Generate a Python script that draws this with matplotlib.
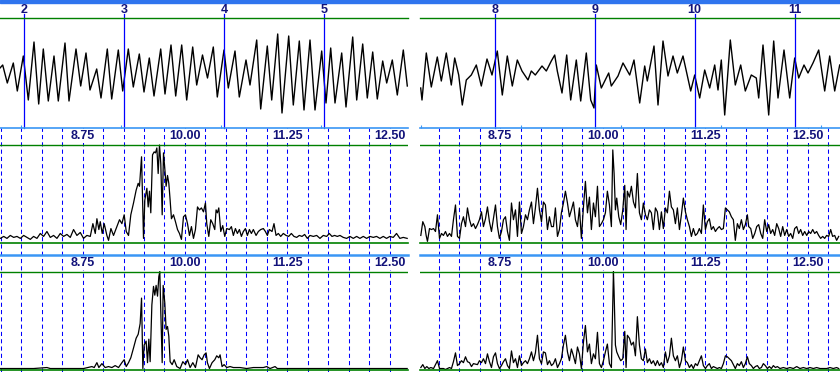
import numpy as np
import matplotlib
matplotlib.use('Agg')
import matplotlib.pyplot as plt
from matplotlib.patches import Rectangle

W, H = 840, 372

NAVY = '#12127a'
GREEN = '#008000'
BLUE = '#0000ff'
AXBLUE = '#3a96f5'
FONT = 'Liberation Sans'

# second markers / ticks on the two EEG segments
sec_left = [2, 3, 4, 5]
sec_right = [8, 9, 10, 11]
tick_left = [1.97, 2.97, 3.97, 4.97]
tick_right = [7.26, 8.26, 9.26, 10.26, 11.26]
freq_labels = [8.75, 10.00, 11.25, 12.50]

# raw EEG (time s, amplitude uV)
wave_left = [
    (1.760, 4), (1.787, 7), (1.833, -11), (1.893, 9), (1.933, -19), (1.993, 16),
    (2.043, -28), (2.100, 30), (2.147, -32), (2.193, 23), (2.243, -29), (2.300, 16),
    (2.343, -29), (2.410, 29), (2.450, -29), (2.520, 23), (2.567, -14), (2.620, 19),
    (2.660, -18), (2.727, 3), (2.770, -26), (2.833, 23), (2.877, -27), (2.943, 22),
    (2.987, -19), (3.043, 23), (3.093, -15), (3.153, 18), (3.200, -20), (3.253, 14),
    (3.300, -24), (3.367, 23), (3.410, -22), (3.470, 27), (3.517, -24), (3.577, 27),
    (3.627, -28), (3.687, 25), (3.727, -13), (3.785, 17), (3.835, -6), (3.893, 25),
    (3.933, -25), (4.000, 22), (4.043, -16), (4.110, 21), (4.153, -25), (4.220, 12),
    (4.260, -13), (4.327, 32), (4.367, -37), (4.433, 26), (4.477, -28), (4.537, 38),
    (4.580, -41), (4.647, 36), (4.693, -33), (4.753, 31), (4.800, -38), (4.860, 32),
    (4.910, -38), (4.977, 21), (5.020, -31), (5.067, 24), (5.110, -31), (5.177, 19),
    (5.220, -35), (5.287, 35), (5.327, -28), (5.387, 28), (5.433, -26), (5.487, 20),
    (5.533, -27), (5.587, 11), (5.627, -11), (5.683, 12), (5.733, -23), (5.793, 22),
    (5.833, -14),
]
wave_right = [
    (7.260, -16), (7.273, -28), (7.316, 19), (7.366, -15), (7.426, 15), (7.466, -9),
    (7.516, 19), (7.566, -13), (7.600, 14), (7.640, -3), (7.676, -33), (7.716, -8),
    (7.766, -3), (7.816, 7), (7.866, -14), (7.923, 13), (7.973, -3), (8.026, 21),
    (8.076, -23), (8.126, 16), (8.176, -14), (8.226, 12), (8.273, 1), (8.333, -8),
    (8.366, 1), (8.406, -3), (8.473, 6), (8.516, 1), (8.566, 11), (8.600, 17),
    (8.626, 1), (8.673, -21), (8.720, 17), (8.760, -28), (8.816, 12), (8.860, -29),
    (8.916, 19), (8.960, -28), (8.993, -36), (9.016, 7), (9.066, -16), (9.140, -1),
    (9.166, -14), (9.233, -4), (9.283, 9), (9.350, -3), (9.393, 12), (9.450, -31),
    (9.500, 6), (9.526, -9), (9.593, 26), (9.633, -33), (9.683, 31), (9.733, -4),
    (9.783, 16), (9.826, -1), (9.883, 16), (9.960, -19), (10.000, -3), (10.050, -26),
    (10.100, 2), (10.150, -16), (10.200, 7), (10.233, -18), (10.266, 12), (10.300, -43),
    (10.356, 32), (10.406, -13), (10.460, 7), (10.506, -19), (10.566, -3), (10.616, -6),
    (10.640, -26), (10.683, 27), (10.740, -43), (10.790, 31), (10.833, -26), (10.893, 22),
    (10.950, -26), (11.000, 14), (11.040, -6), (11.093, 7), (11.133, -1), (11.183, 9),
    (11.240, 22), (11.300, -19), (11.350, 16), (11.400, -19), (11.450, 7),
]

# spectra (Hz, % of panel max)
spec_left_amp = [
    (7.746, 5), (7.787, 7), (7.827, 5), (7.868, 8), (7.909, 6), (7.949, 7), (7.990, 5),
    (8.031, 8), (8.071, 6), (8.112, 4), (8.152, 7), (8.193, 5), (8.234, 10), (8.274, 7),
    (8.315, 12), (8.356, 6), (8.396, 8), (8.437, 5), (8.478, 10), (8.518, 7), (8.559, 9),
    (8.600, 6), (8.640, 14), (8.681, 8), (8.722, 11), (8.762, 5), (8.803, 8), (8.844, 7),
    (8.876, 20), (8.905, 10), (8.925, 25), (8.949, 14), (8.966, 22), (8.990, 10),
    (9.014, 20), (9.047, 8), (9.067, 3), (9.096, 15), (9.128, 8), (9.169, 17), (9.201, 24),
    (9.230, 20), (9.258, 29), (9.283, 12), (9.311, 8), (9.339, 29), (9.372, 41),
    (9.404, 54), (9.429, 61), (9.445, 58), (9.470, 88), (9.494, 5), (9.510, 44),
    (9.535, 56), (9.551, 37), (9.567, 53), (9.583, 31), (9.604, 90), (9.624, 93),
    (9.640, 92), (9.657, 97), (9.673, 71), (9.689, 100), (9.705, 81), (9.722, 29),
    (9.738, 92), (9.754, 76), (9.770, 58), (9.787, 69), (9.803, 61), (9.819, 44),
    (9.835, 25), (9.860, 29), (9.884, 22), (9.909, 14), (9.933, 10), (9.957, 4),
    (9.982, 27), (10.006, 29), (10.031, 20), (10.055, 8), (10.079, 17), (10.104, 5),
    (10.128, 14), (10.153, 37), (10.177, 34), (10.201, 36), (10.226, 32), (10.250, 41),
    (10.266, 20), (10.291, 7), (10.315, 24), (10.339, 20), (10.364, 14), (10.380, 34),
    (10.396, 31), (10.413, 36), (10.437, 12), (10.461, 18), (10.486, 7), (10.510, 15),
    (10.543, 14), (10.567, 17), (10.591, 8), (10.616, 15), (10.640, 10), (10.665, 14),
    (10.689, 7), (10.713, 12), (10.738, 15), (10.762, 8), (10.787, 14), (10.811, 10),
    (10.835, 14), (10.868, 8), (10.896, 12), (10.925, 14), (10.957, 15), (10.982, 12),
    (11.006, 8), (11.030, 14), (11.063, 12), (11.087, 20), (11.112, 8), (11.140, 10),
    (11.169, 7), (11.201, 10), (11.234, 8), (11.266, 7), (11.299, 10), (11.331, 7),
    (11.364, 6), (11.396, 8), (11.429, 7), (11.461, 9), (11.494, 5), (11.526, 8),
    (11.567, 7), (11.608, 8), (11.648, 5), (11.689, 8), (11.730, 7), (11.762, 10),
    (11.795, 7), (11.827, 8), (11.860, 7), (11.892, 8), (11.933, 6), (11.974, 5),
    (12.014, 7), (12.055, 5), (12.096, 7), (12.136, 5), (12.177, 7), (12.218, 5),
    (12.258, 7), (12.299, 6), (12.339, 7), (12.380, 5), (12.421, 7), (12.461, 5),
    (12.502, 7), (12.543, 6), (12.583, 10), (12.624, 5), (12.665, 6), (12.713, 5),
]
spec_left_pow = [
    (7.746, 1), (8.152, 1), (8.315, 2), (8.356, 1), (8.762, 1), (8.864, 3), (8.892, 2),
    (8.925, 7), (8.949, 2), (8.986, 6), (9.026, 2), (9.067, 3), (9.108, 2), (9.148, 4),
    (9.189, 2), (9.230, 7), (9.258, 10), (9.283, 3), (9.311, 7), (9.339, 12), (9.372, 22),
    (9.404, 32), (9.429, 36), (9.453, 47), (9.470, 73), (9.486, 1), (9.502, 25),
    (9.526, 29), (9.543, 7), (9.559, 31), (9.575, 8), (9.596, 66), (9.616, 85),
    (9.632, 76), (9.648, 86), (9.665, 75), (9.681, 95), (9.693, 100), (9.705, 59),
    (9.722, 7), (9.734, 86), (9.754, 68), (9.770, 41), (9.787, 44), (9.803, 34),
    (9.819, 8), (9.844, 5), (9.868, 10), (9.900, 3), (9.941, 1), (9.974, 8), (10.006, 5),
    (10.031, 10), (10.063, 2), (10.096, 7), (10.128, 2), (10.161, 15), (10.185, 12),
    (10.209, 10), (10.234, 15), (10.258, 17), (10.274, 7), (10.299, 1), (10.331, 7),
    (10.364, 10), (10.388, 14), (10.413, 12), (10.429, 15), (10.453, 3), (10.478, 5),
    (10.510, 2), (10.551, 3), (10.591, 2), (10.673, 2), (10.754, 1), (10.835, 2),
    (10.957, 2), (10.998, 3), (11.039, 1), (11.100, 3), (11.128, 1), (11.405, 1),
    (11.811, 1), (12.713, 1),
]
spec_right_amp = [
    (7.782, 8), (7.806, 22), (7.831, 17), (7.847, 8), (7.863, 2), (7.888, 15), (7.912, 14),
    (7.937, 15), (7.961, 12), (7.985, 29), (8.010, 5), (8.034, 10), (8.058, 8), (8.083, 12),
    (8.107, 7), (8.132, 10), (8.156, 7), (8.180, 24), (8.205, 39), (8.229, 7), (8.254, 5),
    (8.278, 20), (8.302, 27), (8.327, 17), (8.351, 36), (8.376, 24), (8.400, 17),
    (8.424, 20), (8.449, 15), (8.473, 19), (8.497, 24), (8.522, 32), (8.546, 17),
    (8.571, 25), (8.595, 37), (8.619, 22), (8.644, 12), (8.668, 25), (8.693, 39),
    (8.717, 17), (8.741, 5), (8.766, 12), (8.790, 24), (8.815, 27), (8.839, 12),
    (8.863, 3), (8.888, 41), (8.912, 24), (8.937, 34), (8.961, 7), (8.985, 42),
    (9.010, 10), (9.034, 17), (9.059, 29), (9.083, 24), (9.107, 34), (9.132, 42),
    (9.156, 20), (9.180, 36), (9.205, 56), (9.229, 34), (9.254, 22), (9.278, 42),
    (9.302, 39), (9.327, 14), (9.351, 27), (9.376, 17), (9.400, 17), (9.424, 36),
    (9.449, 7), (9.473, 14), (9.497, 31), (9.522, 41), (9.546, 53), (9.571, 41),
    (9.595, 27), (9.619, 34), (9.644, 42), (9.668, 24), (9.693, 17), (9.717, 36),
    (9.741, 5), (9.766, 37), (9.790, 63), (9.815, 31), (9.839, 47), (9.863, 14),
    (9.888, 41), (9.912, 27), (9.937, 58), (9.961, 17), (9.985, 20), (10.010, 24),
    (10.034, 31), (10.058, 53), (10.083, 39), (10.107, 17), (10.124, 95), (10.140, 71),
    (10.156, 34), (10.172, 46), (10.197, 27), (10.221, 19), (10.246, 34), (10.270, 59),
    (10.286, 14), (10.302, 53), (10.327, 47), (10.351, 58), (10.376, 42), (10.400, 36),
    (10.424, 71), (10.449, 31), (10.473, 24), (10.497, 41), (10.522, 29), (10.546, 24),
    (10.571, 34), (10.595, 31), (10.619, 14), (10.644, 36), (10.668, 32), (10.693, 14),
    (10.717, 32), (10.741, 15), (10.766, 36), (10.790, 31), (10.815, 53), (10.839, 37),
    (10.863, 34), (10.888, 20), (10.912, 36), (10.937, 14), (10.961, 29), (10.985, 46),
    (11.010, 32), (11.034, 24), (11.059, 17), (11.083, 7), (11.107, 15), (11.132, 8),
    (11.156, 10), (11.180, 15), (11.205, 10), (11.229, 39), (11.254, 14), (11.278, 22),
    (11.302, 25), (11.327, 14), (11.351, 17), (11.376, 12), (11.400, 15), (11.424, 17),
    (11.449, 14), (11.473, 15), (11.498, 36), (11.522, 34), (11.546, 32), (11.571, 27),
    (11.595, 24), (11.619, 3), (11.644, 20), (11.668, 15), (11.693, 24), (11.717, 14),
    (11.741, 19), (11.766, 29), (11.782, 17), (11.807, 15), (11.831, 5), (11.856, 10),
    (11.880, 17), (11.904, 19), (11.929, 10), (11.953, 5), (11.977, 24), (12.002, 12),
    (12.026, 19), (12.050, 10), (12.075, 14), (12.099, 8), (12.124, 20), (12.148, 15),
    (12.172, 7), (12.197, 17), (12.221, 8), (12.246, 14), (12.270, 7), (12.294, 10),
    (12.319, 5), (12.343, 15), (12.368, 17), (12.392, 10), (12.416, 14), (12.441, 8),
    (12.465, 12), (12.490, 8), (12.514, 12), (12.538, 10), (12.563, 14), (12.587, 10),
    (12.611, 12), (12.636, 8), (12.660, 5), (12.685, 7), (12.709, 5), (12.733, 8),
    (12.758, 7), (12.782, 14), (12.806, 7), (12.831, 8), (12.855, 3), (12.880, 7),
]
spec_right_pow = [
    (7.782, 2), (7.806, 5), (7.831, 1), (7.855, 3), (7.880, 1), (7.904, 2), (7.937, 1),
    (7.985, 9), (8.010, 1), (8.034, 1), (8.058, 1), (8.083, 0), (8.107, 1), (8.132, 2),
    (8.156, 1), (8.180, 8), (8.205, 17), (8.229, 4), (8.254, 6), (8.278, 9), (8.302, 7),
    (8.327, 13), (8.351, 8), (8.376, 7), (8.400, 3), (8.424, 6), (8.473, 5), (8.497, 9),
    (8.522, 7), (8.546, 11), (8.571, 6), (8.595, 16), (8.619, 8), (8.644, 2), (8.668, 13),
    (8.693, 17), (8.717, 6), (8.741, 1), (8.766, 4), (8.790, 8), (8.815, 11), (8.839, 4),
    (8.863, 1), (8.888, 19), (8.912, 7), (8.937, 11), (8.961, 2), (8.985, 14), (9.010, 4),
    (9.034, 7), (9.059, 9), (9.083, 6), (9.107, 11), (9.132, 18), (9.156, 9), (9.180, 17),
    (9.205, 35), (9.229, 11), (9.254, 6), (9.278, 18), (9.302, 17), (9.327, 5),
    (9.351, 9), (9.376, 4), (9.400, 6), (9.424, 11), (9.449, 2), (9.473, 6), (9.497, 11),
    (9.522, 25), (9.546, 35), (9.571, 18), (9.595, 9), (9.619, 21), (9.644, 14),
    (9.668, 6), (9.693, 23), (9.717, 16), (9.741, 1), (9.766, 28), (9.790, 45),
    (9.815, 18), (9.839, 26), (9.863, 6), (9.888, 16), (9.912, 11), (9.937, 38),
    (9.961, 6), (9.985, 2), (10.010, 9), (10.034, 18), (10.058, 26), (10.083, 6),
    (10.107, 2), (10.132, 100), (10.140, 79), (10.156, 25), (10.172, 18), (10.197, 13),
    (10.221, 9), (10.246, 11), (10.270, 39), (10.286, 2), (10.302, 35), (10.327, 32),
    (10.351, 25), (10.376, 28), (10.400, 14), (10.424, 54), (10.449, 25), (10.473, 11),
    (10.497, 9), (10.522, 21), (10.546, 7), (10.571, 11), (10.595, 6), (10.619, 9),
    (10.644, 4), (10.668, 9), (10.693, 4), (10.717, 7), (10.741, 2), (10.766, 18),
    (10.790, 7), (10.815, 14), (10.839, 32), (10.863, 14), (10.888, 9), (10.912, 14),
    (10.937, 2), (10.961, 9), (10.985, 23), (11.010, 9), (11.034, 7), (11.059, 2),
    (11.083, 5), (11.107, 1), (11.132, 6), (11.156, 4), (11.180, 9), (11.205, 14),
    (11.229, 4), (11.254, 1), (11.278, 4), (11.302, 6), (11.327, 1), (11.351, 3),
    (11.376, 2), (11.400, 1), (11.424, 2), (11.449, 1), (11.473, 6), (11.498, 14),
    (11.522, 13), (11.546, 11), (11.571, 9), (11.595, 5), (11.619, 1), (11.644, 6),
    (11.668, 4), (11.693, 8), (11.717, 2), (11.741, 6), (11.766, 13), (11.790, 6),
    (11.815, 4), (11.839, 1), (11.863, 3), (11.888, 4), (11.912, 1), (11.937, 2),
    (11.961, 6), (11.985, 4), (12.010, 1), (12.034, 3), (12.059, 1), (12.083, 4),
    (12.108, 2), (12.132, 3), (12.164, 1), (12.205, 2), (12.246, 1), (12.286, 2),
    (12.327, 1), (12.368, 3), (12.408, 1), (12.449, 2), (12.489, 1), (12.530, 2),
    (12.571, 1), (12.611, 2), (12.652, 1), (12.693, 1), (12.733, 1), (12.774, 2),
    (12.814, 1), (12.855, 2), (12.880, 1),
]


def px_axes(fig, x0, y0, x1, y1):
    """axes placed by pixel box (origin top-left)"""
    return fig.add_axes([x0 / W, 1 - y1 / H, (x1 - x0) / W, (y1 - y0) / H])


def bare(ax):
    ax.set_xticks([])
    ax.set_yticks([])
    ax.patch.set_visible(False)
    for s in ax.spines.values():
        s.set_visible(False)


def wave_panel(fig, x0, x1, tlim, wave, secs, ticks):
    ax = px_axes(fig, x0, 18, x1, 127.5)
    bare(ax)
    ax.set_zorder(5)
    t, v = zip(*wave)
    ax.plot(t, v, color='black', lw=1.0)
    ax.set_xlim(*tlim)
    ax.set_ylim(-55.5, 54)
    ax.spines['top'].set_visible(True)
    ax.spines['top'].set_color(GREEN)
    ax.spines['top'].set_linewidth(1.0)
    ax.spines['bottom'].set_visible(True)
    ax.spines['bottom'].set_color(AXBLUE)
    ax.spines['bottom'].set_linewidth(1.2)
    ax.set_xticks(ticks)
    ax.tick_params(axis='x', direction='in', length=2.5, width=0.8,
                   color=AXBLUE, labelbottom=False)
    for s in secs:
        ax.axvline(s, ymin=0, ymax=1.041, color=BLUE, lw=0.9, clip_on=False)
        ax.text(s, 1.075, str(s), transform=ax.get_xaxis_transform(),
                ha='center', va='center', fontsize=9, fontweight='bold',
                color=NAVY, family=FONT)


def spec_column(fig, x0, x1, flim, amp, pw):
    # dashed frequency grid running through both spectra
    bg = px_axes(fig, x0, 127.5, x1, 372)
    bare(bg)
    bg.set_xlim(*flim)
    bg.set_ylim(0, 1)
    for f in np.arange(7.75, 13.0, 0.25):
        if flim[0] <= f <= flim[1]:
            bg.axvline(f, color=BLUE, lw=0.75, ls=(0, (4, 3)))

    rows = [(127.5, 145, 243.3, amp, False), (255, 271.7, 369.5, pw, True)]
    for y0, ytop, ybot, spec, blue_top in rows:
        ax = px_axes(fig, x0, y0, x1, ybot)
        bare(ax)
        ymax = 100 * (ybot - y0) / (ybot - ytop)
        f, v = zip(*spec)
        ax.plot(f, v, color='black', lw=0.9)
        ax.set_xlim(*flim)
        ax.set_ylim(0, ymax)
        ax.axhline(100, color=GREEN, lw=1.0)
        ax.spines['bottom'].set_visible(True)
        ax.spines['bottom'].set_color(GREEN)
        ax.spines['bottom'].set_linewidth(1.2)
        if blue_top:
            ax.spines['top'].set_visible(True)
            ax.spines['top'].set_color(AXBLUE)
            ax.spines['top'].set_linewidth(1.8)
        lab_y = 100 * (ybot - (ytop - 9)) / (ybot - ytop)
        for fl in freq_labels:
            ax.text(fl, lab_y, f'{fl:.2f}', ha='center', va='center',
                    fontsize=9, fontweight='bold', color=NAVY, family=FONT,
                    zorder=2.4,
                    bbox=dict(boxstyle='square,pad=0.08', fc='white', ec='none'))


fig = plt.figure(figsize=(W / 100, H / 100), dpi=100)
fig.patch.set_facecolor('white')
fig.patches.append(Rectangle((0, 1 - 2.8 / H), 1, 2.8 / H, transform=fig.transFigure,
                             color='#2f74ee', zorder=0))

wave_panel(fig, 0, 408, (1.76, 5.84), wave_left, sec_left, tick_left)
wave_panel(fig, 420, 840, (7.253, 11.453), wave_right, sec_right, tick_right)
spec_column(fig, 0, 408, (7.742, 12.723), spec_left_amp, spec_left_pow)
spec_column(fig, 420, 840, (7.772, 12.896), spec_right_amp, spec_right_pow)

fig.savefig('out.png', dpi=100)
